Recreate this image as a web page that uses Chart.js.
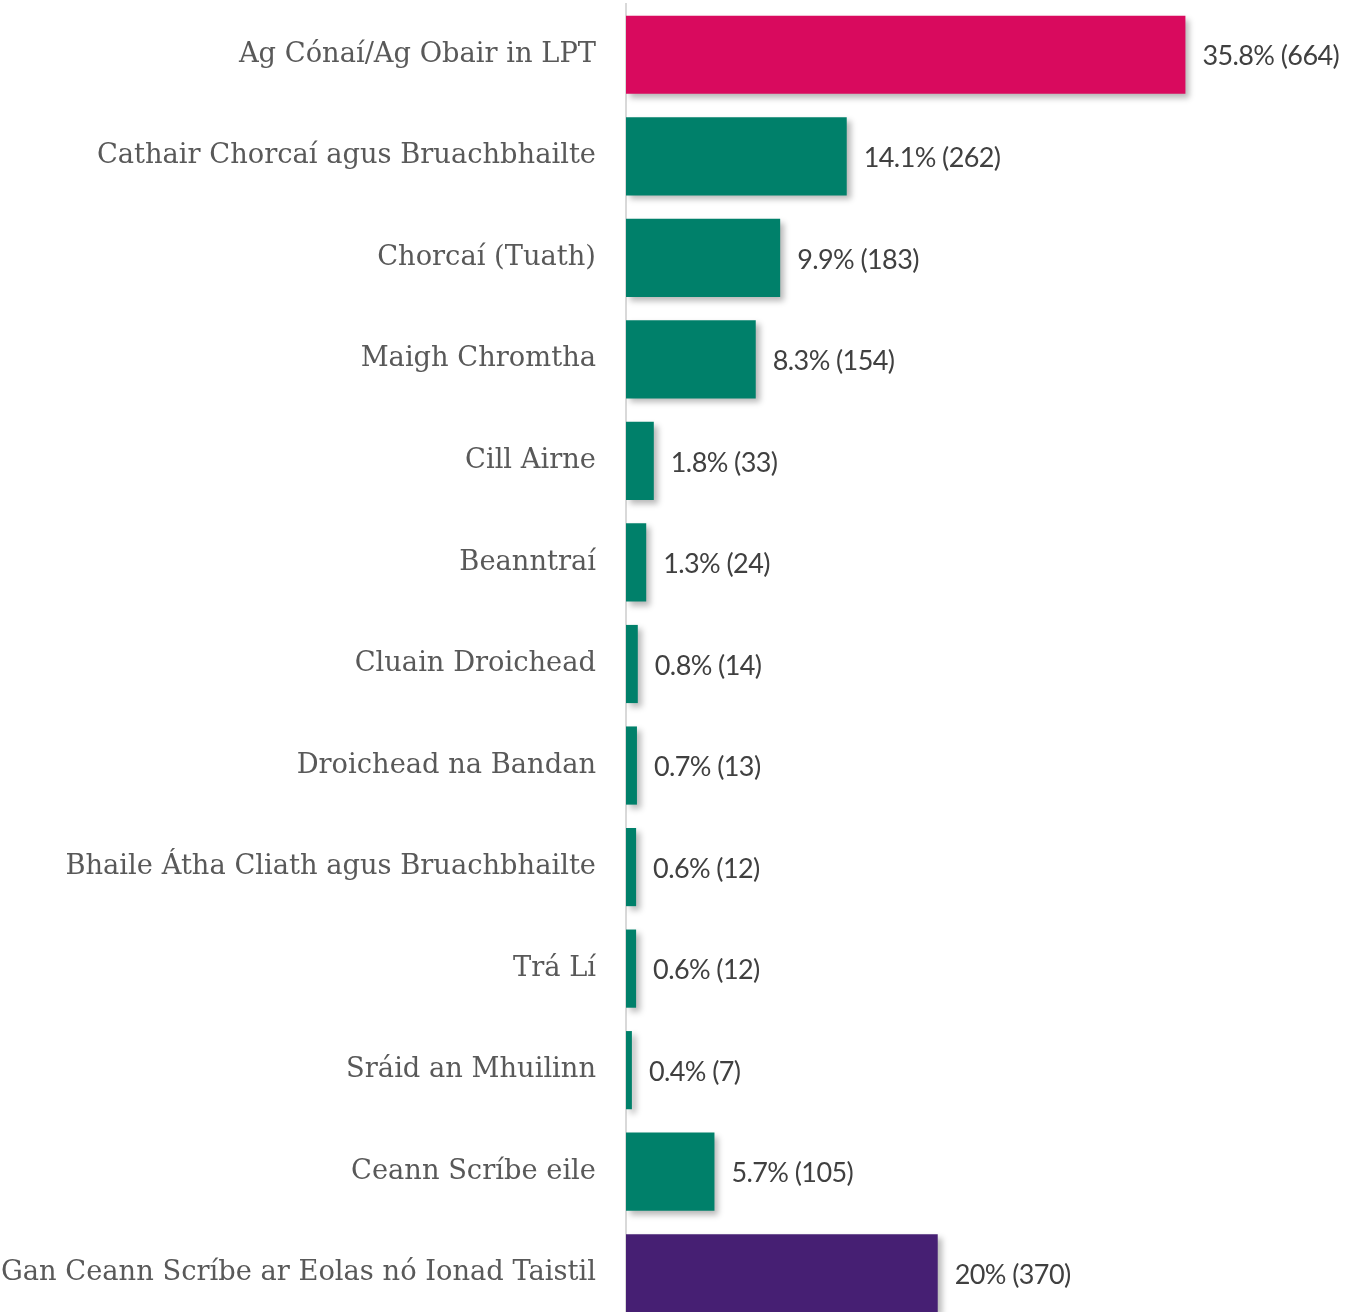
<!DOCTYPE html>
<html>
<head>
<meta charset="utf-8">
<script src="https://cdn.jsdelivr.net/npm/chart.js@4/dist/chart.umd.min.js"></script>
<style>
    html, body { margin: 0; padding: 0; background: #fff; overflow: hidden; }
    #wrap { width: 1357px; height: 1324px; position: relative; }
</style>
</head>
<body>
<div id="wrap"><canvas id="destChart"></canvas></div>
<script>
// Data
const places = [
    'Ag Cónaí/Ag Obair in LPT',
    'Cathair Chorcaí agus Bruachbhailte',
    'Chorcaí (Tuath)',
    'Maigh Chromtha',
    'Cill Airne',
    'Beanntraí',
    'Cluain Droichead',
    'Droichead na Bandan',
    'Bhaile Átha Cliath agus Bruachbhailte',
    'Trá Lí',
    'Sráid an Mhuilinn',
    'Ceann Scríbe eile',
    'Gan Ceann Scríbe ar Eolas nó Ionad Taistil'
];
const counts = [664, 262, 183, 154, 33, 24, 14, 13, 12, 12, 7, 105, 370];
const percents = ['35.8%', '14.1%', '9.9%', '8.3%', '1.8%', '1.3%', '0.8%', '0.7%', '0.6%', '0.6%', '0.4%', '5.7%', '20%'];

const colors = {
    pink: '#d90a5e',
    green: '#00806a',
    purple: '#461f73',
    axis: '#d9d9d9',
    label: '#595959',
    value: '#404040'
};

const barColors = places.map((p, i) => i === 0 ? colors.pink : (i === places.length - 1 ? colors.purple : colors.green));

// drop shadow under the bars
const shadowPlugin = {
    id: 'barShadow',
    beforeDatasetsDraw(chart) {
        const ctx = chart.ctx;
        ctx.save();
        ctx.shadowColor = 'rgba(0,0,0,0.28)';
        ctx.shadowBlur = 6;
        ctx.shadowOffsetX = 4;
        ctx.shadowOffsetY = 4;
    },
    afterDatasetsDraw(chart) {
        chart.ctx.restore();
    }
};

// value labels to the right of each bar
const valueLabels = {
    id: 'valueLabels',
    afterDatasetsDraw(chart) {
        const ctx = chart.ctx;
        const meta = chart.getDatasetMeta(0);
        ctx.save();
        ctx.font = "27px Lato";
        ctx.letterSpacing = '-0.6px';
        ctx.fillStyle = colors.value;
        ctx.textAlign = 'left';
        ctx.textBaseline = 'middle';
        meta.data.forEach((bar, i) => {
            ctx.fillText(`${percents[i]} (${counts[i]})`, bar.x + 17, bar.y + 2);
        });
        ctx.restore();
    }
};

const ctx = document.getElementById('destChart').getContext('2d');
new Chart(ctx, {
    type: 'bar',
    data: {
        labels: places,
        datasets: [{
            data: counts,
            backgroundColor: barColors,
            borderWidth: 0,
            categoryPercentage: 1,
            barPercentage: 0.77
        }]
    },
    options: {
        indexAxis: 'y',
        responsive: true,
        maintainAspectRatio: false,
        animation: false,
        layout: { padding: { top: 4, right: 57, bottom: 0, left: 0 } },
        plugins: {
            legend: { display: false },
            tooltip: { enabled: false }
        },
        scales: {
            x: {
                display: false,
                min: 0,
                max: 800
            },
            y: {
                afterFit: (scale) => {
                    scale.width = 626;
                    scale.paddingTop = 0;
                    scale.paddingBottom = 0;
                },
                grid: { display: false, drawTicks: false },
                border: { display: true, color: colors.axis, width: 2 },
                ticks: {
                    padding: 30,
                    color: colors.label,
                    font: { family: 'DejaVu Serif', size: 27.3 }
                }
            }
        }
    },
    plugins: [shadowPlugin, valueLabels]
});
</script>
</body>
</html>
